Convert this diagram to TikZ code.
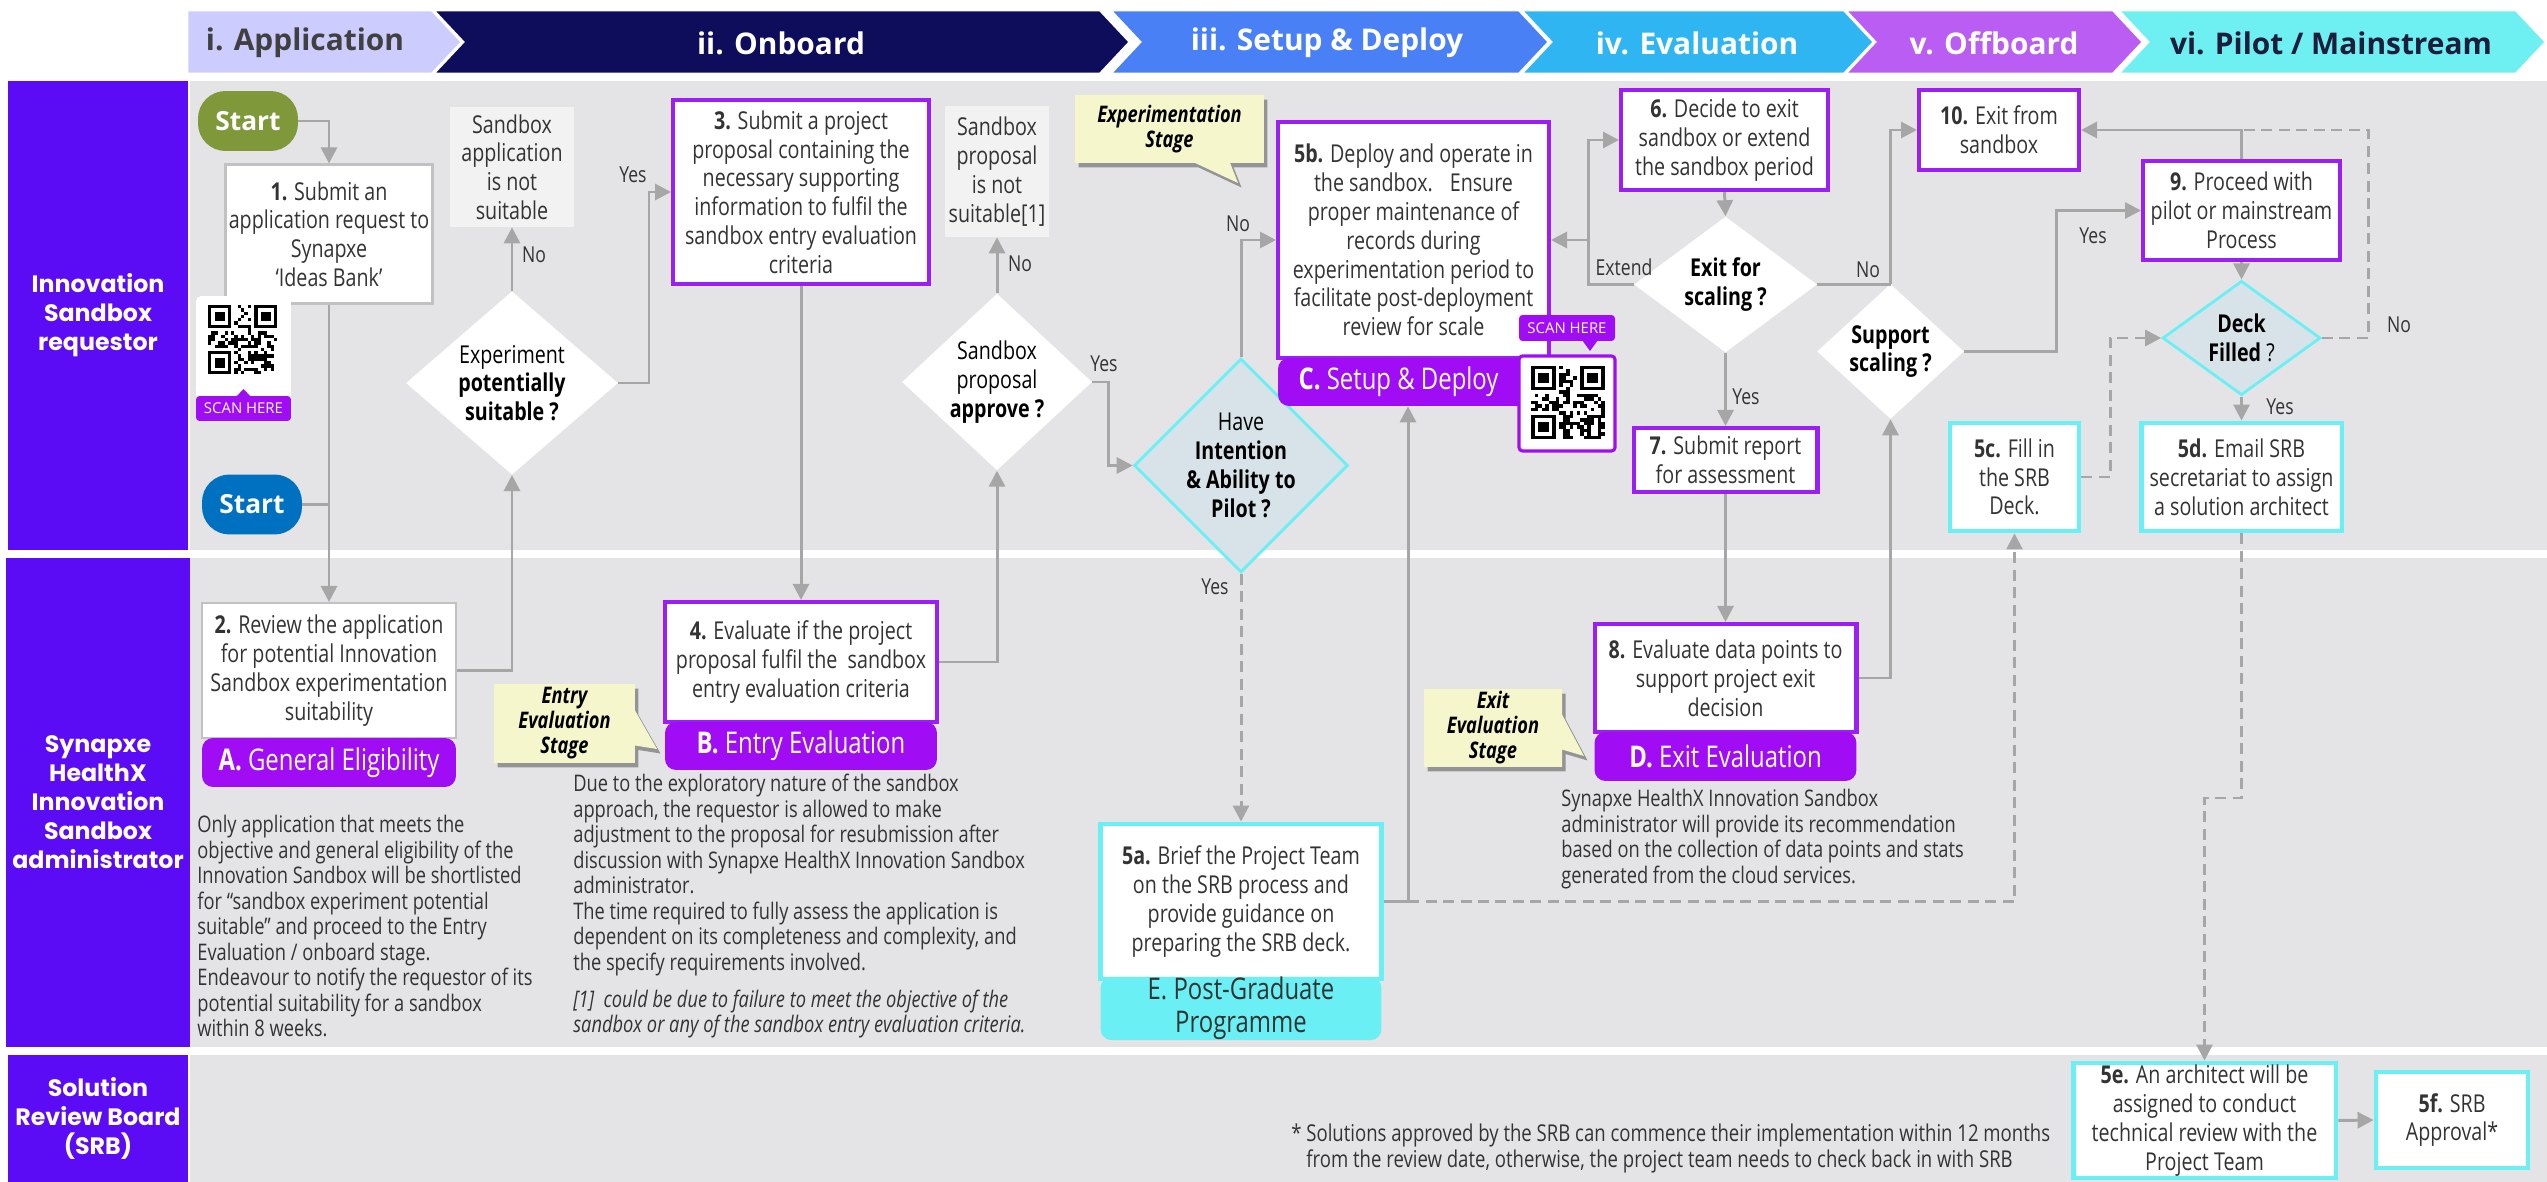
\documentclass[tikz,border=0pt]{standalone}
\usepackage{fontspec}
\setmainfont{Open Sans}[FakeStretch=0.8]
\newfontfamily\headfont{Open Sans}
\newfontfamily\lanefont{Poppins}
\usetikzlibrary{positioning,shapes.geometric,shapes.callouts,shadows,arrows.meta}

\definecolor{lanepurple}{HTML}{5B0CF4}
\definecolor{lanegray}{HTML}{E4E4E7}
\definecolor{boxpurple}{HTML}{9B1EF5}
\definecolor{bandpurple}{HTML}{A00DF5}
\definecolor{boxcyan}{HTML}{6AF0F4}
\definecolor{diafill}{HTML}{D7E3E8}
\definecolor{linegray}{HTML}{A6A6A6}
\definecolor{notegray}{HTML}{F2F2F2}
\definecolor{noteyellow}{HTML}{F6F6CC}
\definecolor{textgray}{HTML}{333333}
\definecolor{startgreen}{HTML}{7E983A}
\definecolor{startblue}{HTML}{0070C0}
\definecolor{hApp}{HTML}{CCCCFF}
\definecolor{hOn}{HTML}{0D0D5C}
\definecolor{hSet}{HTML}{4A80F5}
\definecolor{hEval}{HTML}{2FB6F2}
\definecolor{hOff}{HTML}{BA5DF2}
\definecolor{hPil}{HTML}{6EF0F2}
\definecolor{hDark}{HTML}{404040}
\definecolor{hNavy}{HTML}{1E1E3C}

% pseudo QR patch: top-left x, top-left y, module size
\newcommand{\qrpatch}[3]{%
  \foreach \qi in {0,...,20}{
    \foreach \qj in {0,...,20}{
      \pgfmathrandominteger{\qbit}{0}{1}
      \ifnum\qbit=1 \fill[black] (#1+\qi*#3,#2+\qj*#3) rectangle ++(#3,#3);\fi
    }}
  \foreach \qa/\qb/\wa/\wb in {0/0/0/0,14/0/13/0,0/14/0/13}{
    \fill[white] (#1+\wa*#3,#2+\wb*#3) rectangle ++(8*#3,8*#3);
    \fill[black] (#1+\qa*#3,#2+\qb*#3) rectangle ++(7*#3,7*#3);
    \fill[white] (#1+\qa*#3+#3,#2+\qb*#3+#3) rectangle ++(5*#3,5*#3);
    \fill[black] (#1+\qa*#3+2*#3,#2+\qb*#3+2*#3) rectangle ++(3*#3,3*#3);
  }}

\begin{document}
\begin{tikzpicture}[x=0.02cm,y=-0.02cm,
  step node/.style={rectangle,draw=boxpurple,line width=2.3pt,fill=white,align=center,inner sep=1pt,font=\fontsize{14}{16.4}\selectfont,text=textgray},
  grey node/.style={step node,draw=linegray!70,line width=1.2pt},
  cyan node/.style={step node,draw=boxcyan,line width=2.8pt},
  band node/.style={rectangle,rounded corners=0.22cm,fill=bandpurple,text=white,align=center,inner sep=0pt,font=\fontsize{17}{19}\selectfont},
  dec node/.style={diamond,fill=white,align=center,inner sep=0pt,font=\fontsize{14}{16.4}\selectfont,text=black},
  pilot node/.style={dec node,fill=diafill,draw=boxcyan,line width=1.6pt},
  note node/.style={rectangle,fill=notegray,align=center,inner sep=0pt,font=\fontsize{14}{16.4}\selectfont,text=textgray},
  stage node/.style={rectangle callout,fill=noteyellow,align=center,inner sep=0pt,callout pointer width=0.7cm,
    font=\fontsize{13}{14.2}\selectfont\bfseries\itshape,text=black,
    drop shadow={shadow xshift=0.07cm,shadow yshift=-0.09cm,opacity=0.35,fill=black}},
  start node/.style={rectangle,rounded corners=0.55cm,text=white,font=\headfont\fontsize{15}{17}\selectfont\bfseries,minimum width=2cm,minimum height=1.2cm},
  lane node/.style={rectangle,fill=lanepurple,text=white,align=center,minimum width=3.6cm,font=\lanefont\fontsize{13.5}{16.5}\selectfont\bfseries},
  lbl/.style={inner sep=0pt,text=textgray,font=\fontsize{12.5}{14}\selectfont},
  text block/.style={anchor=north west,align=left,inner sep=0pt,text=textgray,font=\fontsize{13}{14.5}\selectfont},
  plain/.style={draw=linegray,line width=1.7pt},
  arr/.style={plain,-{Triangle[length=0.32cm,width=0.32cm]}},
  dash line/.style={plain,dash pattern=on 0.22cm off 0.13cm},
  dash arr/.style={arr,dash pattern=on 0.22cm off 0.13cm}]

\useasboundingbox (0,0) rectangle (2547,1182);

% phase chevrons
\foreach \xa/\xb/\nd/\col/\tcol/\tx/\txt in {
  187/462/0/hApp/hDark/305/{i. Application},
  433/1130/30/hOn/white/781/{ii. Onboard},
  1110/1549/30/hSet/white/1327/{iii. Setup \& Deploy},
  1521/1874/30/hEval/white/1697/{iv. Evaluation},
  1845/2143/30/hOff/white/1994/{v. Offboard},
  2118/2546/30/hPil/hNavy/2331/{vi. Pilot / Mainstream}}{
  \filldraw[fill=\col,draw=white,line width=1.5pt] (\xa,10) -- (\xb-30,10) -- (\xb,42) -- (\xb-30,74) -- (\xa,74) -- (\xa+\nd,42) -- cycle;
  \node[text=\tcol,font=\headfont\fontsize{17}{20}\selectfont\bfseries] at (\tx,43) {\txt};
}

% swimlanes
\fill[lanegray] (190,81) rectangle (2547,550);
\fill[lanegray] (190,558) rectangle (2547,1047);
\fill[lanegray] (190,1055) rectangle (2547,1182);
\node[lane node,minimum height=9.38cm] (L1) at (98,315.5) {Innovation\\Sandbox\\requestor};
\node[lane node,minimum height=9.78cm] (L2) at (98,802.5) {Synapxe\\HealthX\\Innovation\\Sandbox\\administrator};
\node[lane node,minimum height=2.54cm] (L3) at (98,1118.5) {Solution\\Review Board\\(SRB)};

% application
\node[start node,fill=startgreen] (s1) at (248,121) {Start};
\node[start node,fill=startblue] (s2) at (252,504.5) {Start};
\node[grey node,minimum width=4.14cm,minimum height=2.78cm] (1) at (329,234) {\textbf{1.} Submit an\\application request to\\Synapxe\\‘Ideas Bank’};
\node[rectangle,rounded corners=3pt,fill=white,minimum width=1.9cm,minimum height=2.5cm] (qr1) at (243.5,358.5) {};
\pgfmathsetseed{11}
\qrpatch{208}{305}{3.3}
\node[rectangle,rounded corners=2pt,fill=bandpurple,text=white,minimum width=1.9cm,minimum height=0.5cm,inner sep=0pt,font=\headfont\fontsize{8.5}{10}\selectfont] (scan1) at (243.5,408.5) {SCAN HERE};
\fill[bandpurple] (236,397) -- (243.5,389) -- (251,397) -- cycle;

\node[grey node,minimum width=5.08cm,minimum height=2.7cm] (2) at (329,670.5) {\textbf{2.} Review the application\\for potential Innovation\\Sandbox experimentation\\suitability};
\node[band node,minimum width=5.08cm,minimum height=0.98cm] (A) at (329,762.5) {\textbf{A.} General Eligibility};

% onboard
\node[dec node,minimum width=4.24cm,minimum height=2.92cm] (d1) at (512,383) {Experiment\\\textbf{potentially}\\\textbf{suitable ?}};
\node[note node,minimum width=2.48cm,minimum height=2.4cm] (n1) at (512,167) {Sandbox\\application\\is not\\suitable};
\node[step node,minimum width=5.12cm,minimum height=3.68cm] (3) at (801,192) {\textbf{3.} Submit a project\\proposal containing the\\necessary supporting\\information to fulfil the\\sandbox entry evaluation\\criteria};
\node[step node,minimum width=5.44cm,minimum height=2.4cm] (4) at (801,662) {\textbf{4.} Evaluate if the project\\proposal fulfil the \ sandbox\\entry evaluation criteria};
\node[band node,minimum width=5.44cm,minimum height=0.96cm] (B) at (801,746) {\textbf{B.} Entry Evaluation};
\node[dec node,minimum width=3.8cm,minimum height=2.92cm] (d2) at (997,382) {Sandbox\\proposal\\\textbf{approve ?}};
\node[note node,minimum width=2.1cm,minimum height=2.62cm] (n2) at (997,171.5) {Sandbox\\proposal\\is not\\suitable[1]};
\node[stage node,minimum width=2.82cm,minimum height=1.58cm,callout absolute pointer={(657,749)}] (c2) at (564.5,723.5) {Entry\\Evaluation\\Stage};

% setup and deploy
\node[pilot node,minimum width=4.08cm,minimum height=3.02cm] (d3) at (1241,465.5) {Have\\\textbf{Intention}\\\textbf{\& Ability to}\\\textbf{Pilot ?}};
\node[stage node,minimum width=3.78cm,minimum height=1.36cm,callout absolute pointer={(1238,183)}] (c1) at (1169.5,129) {Experimentation\\Stage};
\node[step node,minimum width=5.42cm,minimum height=4.72cm] (5b) at (1413.5,240) {\textbf{5b.} Deploy and operate in\\the sandbox. \ \ Ensure\\proper maintenance of\\records during\\experimentation period to\\facilitate post-deployment\\review for scale};
\node[band node,minimum width=5.42cm,minimum height=0.96cm] (C) at (1413.5,382) {\textbf{C.} Setup \& Deploy\hspace*{0.6cm}};
\node[rectangle,rounded corners=2pt,fill=white,draw=bandpurple,line width=1.8pt,minimum width=1.92cm,minimum height=1.9cm] (qr2) at (1567,403.5) {};
\pgfmathsetseed{23}
\qrpatch{1531}{366}{3.5}
\node[rectangle,rounded corners=2pt,fill=bandpurple,text=white,minimum width=1.92cm,minimum height=0.52cm,inner sep=0pt,font=\headfont\fontsize{8.5}{10}\selectfont] (scan2) at (1567,328) {SCAN HERE};
\fill[bandpurple] (1582,340) -- (1590,351) -- (1598,340) -- cycle;
\node[cyan node,minimum width=5.62cm,minimum height=3.1cm] (5a) at (1241,901.5) {\textbf{5a.} Brief the Project Team\\on the SRB process and\\provide guidance on\\preparing the SRB deck.};
\node[band node,fill=boxcyan,text=textgray,minimum width=5.62cm,minimum height=1.22cm] (E) at (1241,1008.5) {E. Post-Graduate\\Programme};

% evaluation
\node[step node,minimum width=4.14cm,minimum height=2cm] (6) at (1724.5,140) {\textbf{6.} Decide to exit\\sandbox or extend\\the sandbox period};
\node[dec node,minimum width=3.66cm,minimum height=2.18cm] (d4) at (1725.5,284.5) {\textbf{Exit for}\\\textbf{scaling ?}};
\node[step node,minimum width=3.68cm,minimum height=1.28cm] (7) at (1725.5,460) {\textbf{7.} Submit report\\for assessment};
\node[step node,minimum width=5.24cm,minimum height=2.16cm] (8) at (1725.5,678) {\textbf{8.} Evaluate data points to\\support project exit\\decision};
\node[band node,minimum width=5.24cm,minimum height=0.98cm] (D) at (1725.5,756.5) {\textbf{D.} Exit Evaluation};
\node[stage node,minimum width=2.76cm,minimum height=1.56cm,callout absolute pointer={(1584,756)}] (c3) at (1493,728) {Exit\\Evaluation\\Stage};

% offboard and pilot
\node[dec node,minimum width=2.94cm,minimum height=2.14cm] (d5) at (1890.5,351.5) {\textbf{Support}\\\textbf{scaling ?}};
\node[step node,minimum width=3.2cm,minimum height=1.6cm] (10) at (1999,130) {\textbf{10.} Exit from\\sandbox};
\node[step node,minimum width=3.94cm,minimum height=1.98cm] (9) at (2241.5,210.5) {\textbf{9.} Proceed with\\pilot or mainstream\\Process};
\node[pilot node,minimum width=3.16cm,minimum height=2.16cm] (d6) at (2241.5,338) {\textbf{Deck}\\\textbf{Filled} ?};
\node[cyan node,minimum width=2.58cm,minimum height=2.16cm] (5c) at (2014.5,477) {\textbf{5c.} Fill in\\the SRB\\Deck.};
\node[cyan node,minimum width=4.02cm,minimum height=2.16cm] (5d) at (2241.5,477) {\textbf{5d.} Email SRB\\secretariat to assign\\a solution architect};
\node[cyan node,minimum width=5.26cm,minimum height=2.3cm] (5e) at (2204.5,1120.5) {\textbf{5e.} An architect will be\\assigned to conduct\\technical review with the\\Project Team};
\node[cyan node,minimum width=3.04cm,minimum height=1.92cm] (5f) at (2452,1120) {\textbf{5f.} SRB\\Approval*};

% notes
\node[text block] (t1) at (197,815) {Only application that meets the\\objective and general eligibility of the\\Innovation Sandbox will be shortlisted\\for “sandbox experiment potential\\suitable” and proceed to the Entry\\Evaluation / onboard stage.\\Endeavour to notify the requestor of its\\potential suitability for a sandbox\\within 8 weeks.};
\node[text block] (t2) at (573,774) {Due to the exploratory nature of the sandbox\\approach, the requestor is allowed to make\\adjustment to the proposal for resubmission after\\discussion with Synapxe HealthX Innovation Sandbox\\administrator.\\The time required to fully assess the application is\\dependent on its completeness and complexity, and\\the specify requirements involved.\\[0.23cm]\textit{[1] \ could be due to failure to meet the objective of the}\\\textit{sandbox or any of the sandbox entry evaluation criteria.}};
\node[text block] (t3) at (1561,789) {Synapxe HealthX Innovation Sandbox\\administrator will provide its recommendation\\based on the collection of data points and stats\\generated from the cloud services.};
\node[text block,font=\fontsize{13.2}{14.5}\selectfont] (t4) at (1291,1124) {* Solutions approved by the SRB can commence their implementation within 12 months\\\phantom{*} from the review date, otherwise, the project team needs to check back in with SRB};

% connectors
\draw[arr] (s1.east) -| (1.north);
\draw[arr] (1.south) -- (2.north);
\draw[plain] (s2.east) -- (s2.east -| 1.south);
\draw[arr] (2.east) -| (d1.south);
\draw[arr] (d1.north) -- (n1.south);
\draw[arr] (d1.east) -- (649,383) |- (3.west);
\draw[arr] (3.south) -- (4.north);
\draw[arr] (4.east) -| (d2.south);
\draw[arr] (d2.north) -- (n2.south);
\draw[arr] (d2.east) -- (1108,382) |- (d3.west);
\draw[arr] (d3.north) |- (5b.west);
\draw[dash arr] (d3.south) -- (5a.north);
\coordinate (j1) at (1408,901.5);
\draw[arr] (5a.east) -- (j1) -- (j1 |- C.south);
\draw[dash arr] (j1) -| (5c.south);
\coordinate (j2) at (1588,240);
\draw[arr] (d4.west) -| (j2) -- (5b.east);
\draw[arr] (j2) |- (6.west);
\draw[arr] (6.south) -- (d4.north);
\draw[plain] (d4.east) -- (d4.east -| d5.north);
\draw[arr] (d5.north) |- (10.west);
\draw[arr] (d4.south) -- (7.north);
\draw[arr] (7.south) -- (8.north);
\draw[arr] (8.east) -| (d5.south);
\draw[arr] (d5.east) -- (2056,351.5) |- (9.west);
\draw[dash line] (d6.east) -- (2368,338) |- (9.north |- 10.east);
\draw[arr] (9.north) |- (10.east);
\draw[arr] (9.south) -- (d6.north);
\draw[arr] (d6.south) -- (5d.north);
\draw[dash arr] (5c.east) -- (2110,477) |- (d6.west);
\draw[dash arr] (5d.south) |- (2204.5,798) -- (5e.north);
\draw[arr] (5e.east) -- (5f.west);

% branch labels
\node[lbl] (no1) at (534,255) {No};
\node[lbl] (yes1) at (633,175) {Yes};
\node[lbl] (no2) at (1020,264) {No};
\node[lbl] (yes2) at (1104,364) {Yes};
\node[lbl] (no3) at (1238,224) {No};
\node[lbl] (yes3) at (1215,587) {Yes};
\node[lbl] (ext) at (1624,267) {Extend};
\node[lbl] (no4) at (1868,270) {No};
\node[lbl] (yes4) at (1746,397) {Yes};
\node[lbl] (yes5) at (2093,236) {Yes};
\node[lbl] (no5) at (2399,325) {No};
\node[lbl] (yes6) at (2280,407) {Yes};
\end{tikzpicture}
\end{document}
